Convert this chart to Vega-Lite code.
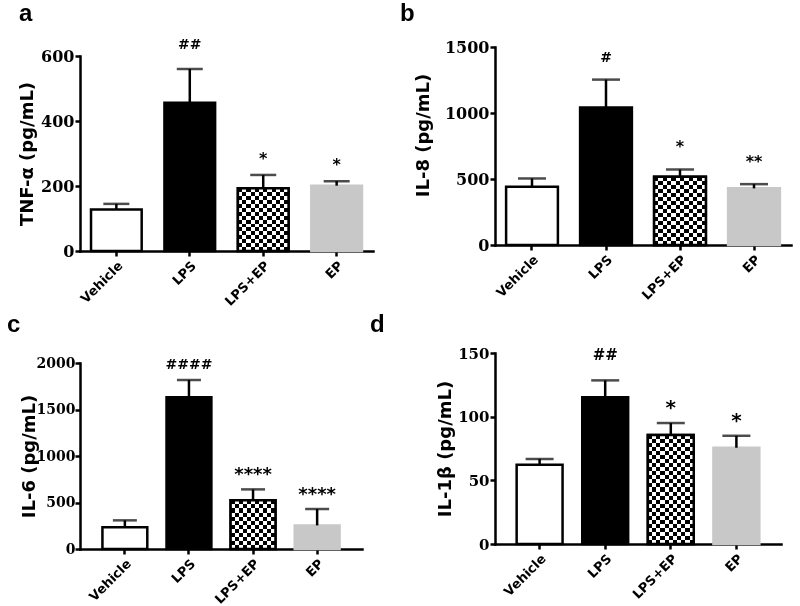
{
  "$schema": "https://vega.github.io/schema/vega-lite/v6.json",
  "background": "white",
  "padding": {"left": 7, "top": 2, "right": 5, "bottom": 2},
  "datasets": {
    "d": [
      {"panel": "a", "group": "Vehicle", "value": 128, "err": 145, "label": ""},
      {"panel": "a", "group": "LPS", "value": 456, "err": 560, "label": "##"},
      {"panel": "a", "group": "LPS+EP", "value": 193, "err": 234, "label": "*"},
      {"panel": "a", "group": "EP", "value": 201, "err": 215, "label": "*"},
      {"panel": "b", "group": "Vehicle", "value": 441, "err": 504, "label": ""},
      {"panel": "b", "group": "LPS", "value": 1041, "err": 1253, "label": "#"},
      {"panel": "b", "group": "LPS+EP", "value": 517, "err": 572, "label": "*"},
      {"panel": "b", "group": "EP", "value": 429, "err": 461, "label": "**"},
      {"panel": "c", "group": "Vehicle", "value": 233, "err": 308, "label": ""},
      {"panel": "c", "group": "LPS", "value": 1631, "err": 1817, "label": "####"},
      {"panel": "c", "group": "LPS+EP", "value": 523, "err": 641, "label": "****"},
      {"panel": "c", "group": "EP", "value": 254, "err": 430, "label": "****"},
      {"panel": "d", "group": "Vehicle", "value": 62.3, "err": 66.8, "label": ""},
      {"panel": "d", "group": "LPS", "value": 115.2, "err": 128.5, "label": "##"},
      {"panel": "d", "group": "LPS+EP", "value": 85.6, "err": 95, "label": "*"},
      {"panel": "d", "group": "EP", "value": 75.6, "err": 85, "label": "*"}
    ]
  },
  "bounds": "full",
  "spacing": -3,
  "config": {
    "view": {"stroke": null},
    "axis": {
      "grid": false, "domainColor": "black", "domainWidth": 2.5, "domainCap": "square",
      "tickColor": "black", "tickWidth": 2.5, "tickSize": 5,
      "labelColor": "black", "titleColor": "black"
    },
    "axisX": {"labelAngle": -45, "labelFont": "DejaVu Sans", "labelFontWeight": "bold", "labelFontSize": 13, "labelPadding": 3, "title": null},
    "axisY": {"labelFont": "DejaVu Serif", "labelFontWeight": "bold", "labelPadding": 1, "format": "d", "titleFont": "DejaVu Sans", "titleFontWeight": "bold", "titleFontSize": 18},
    "title": {"anchor": "start", "frame": "group", "font": "Liberation Sans", "fontWeight": "bold", "fontSize": 24, "color": "black"},
    "text": {"font": "DejaVu Sans", "fontWeight": "bold", "fontSize": 16, "baseline": "bottom", "color": "black"}
  },
  "hconcat": [
    {
      "bounds": "flush",
      "spacing": 0,
      "vconcat": [
        {
          "width": 1, "height": 9,
          "data": {"values": [{}]},
          "mark": {"type": "point", "opacity": 0},
          "encoding": {}
        },
        {
          "bounds": "flush",
          "spacing": 112,
          "vconcat": [
            {
              "width": 293, "height": 195,
              "title": {"text": "a", "dx": -61, "offset": 12},
              "data": {"name": "d"},
              "transform": [{"filter": "datum.panel == 'a'"}],
              "encoding": {
                "x": {"field": "group", "type": "nominal", "sort": ["Vehicle", "LPS", "LPS+EP", "EP"], "scale": {"paddingInner": 0.31, "paddingOuter": 0.15}}
              },
              "layer": [
                {
                  "mark": {"type": "bar", "strokeWidth": 2.5},
                  "encoding": {
                    "y": {"field": "value", "type": "quantitative", "scale": {"domain": [0, 600], "nice": false}, "axis": {"values": [0, 200, 400, 600], "title": "TNF-α (pg/mL)", "labelFontSize": 16, "titlePadding": 4}},
                    "fill": {"field": "group", "type": "nominal", "scale": {"domain": ["Vehicle", "LPS", "LPS+EP", "EP"], "range": ["#ffffff", "#000000", "#ffffff", "#c8c8c8"]}, "legend": null},
                    "stroke": {"field": "group", "type": "nominal", "scale": {"domain": ["Vehicle", "LPS", "LPS+EP", "EP"], "range": ["#000000", "#000000", "#000000", "#c8c8c8"]}, "legend": null}
                  }
                },
                {
                  "transform": [{"filter": "datum.group == 'LPS+EP'"}],
                  "mark": {"type": "bar", "fill": {"gradient": "linear", "x1": 0, "y1": 0, "x2": 1, "y2": 0, "stops": [{"offset":0,"color":"#000"},{"offset":0.0833,"color":"#000"},{"offset":0.0833,"color":"#fff"},{"offset":0.1667,"color":"#fff"},{"offset":0.1667,"color":"#000"},{"offset":0.25,"color":"#000"},{"offset":0.25,"color":"#fff"},{"offset":0.3333,"color":"#fff"},{"offset":0.3333,"color":"#000"},{"offset":0.4167,"color":"#000"},{"offset":0.4167,"color":"#fff"},{"offset":0.5,"color":"#fff"},{"offset":0.5,"color":"#000"},{"offset":0.5833,"color":"#000"},{"offset":0.5833,"color":"#fff"},{"offset":0.6667,"color":"#fff"},{"offset":0.6667,"color":"#000"},{"offset":0.75,"color":"#000"},{"offset":0.75,"color":"#fff"},{"offset":0.8333,"color":"#fff"},{"offset":0.8333,"color":"#000"},{"offset":0.9167,"color":"#000"},{"offset":0.9167,"color":"#fff"},{"offset":1,"color":"#fff"}]}},
                  "encoding": {"y": {"field": "value", "type": "quantitative"}}
                },
                {
                  "transform": [{"filter": "datum.group == 'LPS+EP'"}],
                  "mark": {"type": "bar", "blend": "difference", "fill": {"gradient": "linear", "x1": 0, "y1": 0, "x2": 0, "y2": 1, "stops": [{"offset":0,"color":"#000"},{"offset":0.0625,"color":"#000"},{"offset":0.0625,"color":"#fff"},{"offset":0.125,"color":"#fff"},{"offset":0.125,"color":"#000"},{"offset":0.1875,"color":"#000"},{"offset":0.1875,"color":"#fff"},{"offset":0.25,"color":"#fff"},{"offset":0.25,"color":"#000"},{"offset":0.3125,"color":"#000"},{"offset":0.3125,"color":"#fff"},{"offset":0.375,"color":"#fff"},{"offset":0.375,"color":"#000"},{"offset":0.4375,"color":"#000"},{"offset":0.4375,"color":"#fff"},{"offset":0.5,"color":"#fff"},{"offset":0.5,"color":"#000"},{"offset":0.5625,"color":"#000"},{"offset":0.5625,"color":"#fff"},{"offset":0.625,"color":"#fff"},{"offset":0.625,"color":"#000"},{"offset":0.6875,"color":"#000"},{"offset":0.6875,"color":"#fff"},{"offset":0.75,"color":"#fff"},{"offset":0.75,"color":"#000"},{"offset":0.8125,"color":"#000"},{"offset":0.8125,"color":"#fff"},{"offset":0.875,"color":"#fff"},{"offset":0.875,"color":"#000"},{"offset":0.9375,"color":"#000"},{"offset":0.9375,"color":"#fff"},{"offset":1,"color":"#fff"}]}},
                  "encoding": {"y": {"field": "value", "type": "quantitative"}}
                },
                {
                  "transform": [{"filter": "datum.group == 'LPS+EP'"}],
                  "mark": {"type": "bar", "fillOpacity": 0, "stroke": "black", "strokeWidth": 2.5},
                  "encoding": {"y": {"field": "value", "type": "quantitative"}}
                },
                {
                  "mark": {"type": "rule", "strokeWidth": 2.5, "color": "black"},
                  "encoding": {"y": {"field": "value", "type": "quantitative"}, "y2": {"field": "err"}}
                },
                {
                  "mark": {"type": "tick", "size": 26, "thickness": 2.5, "color": "black"},
                  "encoding": {"y": {"field": "err", "type": "quantitative"}}
                },
                {
                  "transform": [{"filter": "indexof(datum.label, '#') >= 0"}],
                  "mark": {"type": "text", "dy": -17, "fontSize": 14},
                  "encoding": {"y": {"field": "err", "type": "quantitative"}, "text": {"field": "label"}}
                },
                {
                  "transform": [{"filter": "indexof(datum.label, '*') >= 0"}],
                  "mark": {"type": "text", "dy": -8, "fontSize": 16},
                  "encoding": {"y": {"field": "err", "type": "quantitative"}, "text": {"field": "label"}}
                }
              ]
            },
            {
              "width": 282, "height": 186,
              "title": {"text": "c", "dx": -73, "offset": 19},
              "data": {"name": "d"},
              "transform": [{"filter": "datum.panel == 'c'"}],
              "encoding": {
                "x": {"field": "group", "type": "nominal", "sort": ["Vehicle", "LPS", "LPS+EP", "EP"], "scale": {"paddingInner": 0.3, "paddingOuter": 0.35}}
              },
              "layer": [
                {
                  "mark": {"type": "bar", "strokeWidth": 2.5},
                  "encoding": {
                    "y": {"field": "value", "type": "quantitative", "scale": {"domain": [0, 2000], "nice": false}, "axis": {"values": [0, 500, 1000, 1500, 2000], "title": "IL-6  (pg/mL)", "labelFontSize": 14, "labelPadding": 0, "titlePadding": -2}},
                    "fill": {"field": "group", "type": "nominal", "scale": {"domain": ["Vehicle", "LPS", "LPS+EP", "EP"], "range": ["#ffffff", "#000000", "#ffffff", "#c8c8c8"]}, "legend": null},
                    "stroke": {"field": "group", "type": "nominal", "scale": {"domain": ["Vehicle", "LPS", "LPS+EP", "EP"], "range": ["#000000", "#000000", "#000000", "#c8c8c8"]}, "legend": null}
                  }
                },
                {
                  "transform": [{"filter": "datum.group == 'LPS+EP'"}],
                  "mark": {"type": "bar", "fill": {"gradient": "linear", "x1": 0, "y1": 0, "x2": 1, "y2": 0, "stops": [{"offset":0,"color":"#000"},{"offset":0.0909,"color":"#000"},{"offset":0.0909,"color":"#fff"},{"offset":0.1818,"color":"#fff"},{"offset":0.1818,"color":"#000"},{"offset":0.2727,"color":"#000"},{"offset":0.2727,"color":"#fff"},{"offset":0.3636,"color":"#fff"},{"offset":0.3636,"color":"#000"},{"offset":0.4545,"color":"#000"},{"offset":0.4545,"color":"#fff"},{"offset":0.5455,"color":"#fff"},{"offset":0.5455,"color":"#000"},{"offset":0.6364,"color":"#000"},{"offset":0.6364,"color":"#fff"},{"offset":0.7273,"color":"#fff"},{"offset":0.7273,"color":"#000"},{"offset":0.8182,"color":"#000"},{"offset":0.8182,"color":"#fff"},{"offset":0.9091,"color":"#fff"},{"offset":0.9091,"color":"#000"},{"offset":1,"color":"#000"}]}},
                  "encoding": {"y": {"field": "value", "type": "quantitative"}}
                },
                {
                  "transform": [{"filter": "datum.group == 'LPS+EP'"}],
                  "mark": {"type": "bar", "blend": "difference", "fill": {"gradient": "linear", "x1": 0, "y1": 0, "x2": 0, "y2": 1, "stops": [{"offset":0,"color":"#000"},{"offset":0.0833,"color":"#000"},{"offset":0.0833,"color":"#fff"},{"offset":0.1667,"color":"#fff"},{"offset":0.1667,"color":"#000"},{"offset":0.25,"color":"#000"},{"offset":0.25,"color":"#fff"},{"offset":0.3333,"color":"#fff"},{"offset":0.3333,"color":"#000"},{"offset":0.4167,"color":"#000"},{"offset":0.4167,"color":"#fff"},{"offset":0.5,"color":"#fff"},{"offset":0.5,"color":"#000"},{"offset":0.5833,"color":"#000"},{"offset":0.5833,"color":"#fff"},{"offset":0.6667,"color":"#fff"},{"offset":0.6667,"color":"#000"},{"offset":0.75,"color":"#000"},{"offset":0.75,"color":"#fff"},{"offset":0.8333,"color":"#fff"},{"offset":0.8333,"color":"#000"},{"offset":0.9167,"color":"#000"},{"offset":0.9167,"color":"#fff"},{"offset":1,"color":"#fff"}]}},
                  "encoding": {"y": {"field": "value", "type": "quantitative"}}
                },
                {
                  "transform": [{"filter": "datum.group == 'LPS+EP'"}],
                  "mark": {"type": "bar", "fillOpacity": 0, "stroke": "black", "strokeWidth": 2.5},
                  "encoding": {"y": {"field": "value", "type": "quantitative"}}
                },
                {
                  "mark": {"type": "rule", "strokeWidth": 2.5, "color": "black"},
                  "encoding": {"y": {"field": "value", "type": "quantitative"}, "y2": {"field": "err"}}
                },
                {
                  "mark": {"type": "tick", "size": 24, "thickness": 2.5, "color": "black"},
                  "encoding": {"y": {"field": "err", "type": "quantitative"}}
                },
                {
                  "transform": [{"filter": "indexof(datum.label, '#') >= 0"}],
                  "mark": {"type": "text", "dy": -8, "fontSize": 14},
                  "encoding": {"y": {"field": "err", "type": "quantitative"}, "text": {"field": "label"}}
                },
                {
                  "transform": [{"filter": "indexof(datum.label, '*') >= 0"}],
                  "mark": {"type": "text", "dy": -5, "fontSize": 18},
                  "encoding": {"y": {"field": "err", "type": "quantitative"}, "text": {"field": "label"}}
                }
              ]
            }
          ]
        }
      ]
    },
    {
      "bounds": "flush",
      "spacing": 108,
      "vconcat": [
        {
          "width": 296, "height": 198,
          "title": {"text": "b", "dx": -95, "offset": 13},
          "data": {"name": "d"},
          "transform": [{"filter": "datum.panel == 'b'"}],
          "encoding": {
            "x": {"field": "group", "type": "nominal", "sort": ["Vehicle", "LPS", "LPS+EP", "EP"], "scale": {"paddingInner": 0.3, "paddingOuter": 0.15}}
          },
          "layer": [
            {
              "mark": {"type": "bar", "strokeWidth": 2.5},
              "encoding": {
                "y": {"field": "value", "type": "quantitative", "scale": {"domain": [0, 1500], "nice": false}, "axis": {"values": [0, 500, 1000, 1500], "title": "IL-8 (pg/mL)", "labelFontSize": 16, "titlePadding": 12, "titleY": 88}},
                "fill": {"field": "group", "type": "nominal", "scale": {"domain": ["Vehicle", "LPS", "LPS+EP", "EP"], "range": ["#ffffff", "#000000", "#ffffff", "#c8c8c8"]}, "legend": null},
                "stroke": {"field": "group", "type": "nominal", "scale": {"domain": ["Vehicle", "LPS", "LPS+EP", "EP"], "range": ["#000000", "#000000", "#000000", "#c8c8c8"]}, "legend": null}
              }
            },
            {
              "transform": [{"filter": "datum.group == 'LPS+EP'"}],
              "mark": {"type": "bar", "fill": {"gradient": "linear", "x1": 0, "y1": 0, "x2": 1, "y2": 0, "stops": [{"offset":0,"color":"#000"},{"offset":0.0833,"color":"#000"},{"offset":0.0833,"color":"#fff"},{"offset":0.1667,"color":"#fff"},{"offset":0.1667,"color":"#000"},{"offset":0.25,"color":"#000"},{"offset":0.25,"color":"#fff"},{"offset":0.3333,"color":"#fff"},{"offset":0.3333,"color":"#000"},{"offset":0.4167,"color":"#000"},{"offset":0.4167,"color":"#fff"},{"offset":0.5,"color":"#fff"},{"offset":0.5,"color":"#000"},{"offset":0.5833,"color":"#000"},{"offset":0.5833,"color":"#fff"},{"offset":0.6667,"color":"#fff"},{"offset":0.6667,"color":"#000"},{"offset":0.75,"color":"#000"},{"offset":0.75,"color":"#fff"},{"offset":0.8333,"color":"#fff"},{"offset":0.8333,"color":"#000"},{"offset":0.9167,"color":"#000"},{"offset":0.9167,"color":"#fff"},{"offset":1,"color":"#fff"}]}},
              "encoding": {"y": {"field": "value", "type": "quantitative"}}
            },
            {
              "transform": [{"filter": "datum.group == 'LPS+EP'"}],
              "mark": {"type": "bar", "blend": "difference", "fill": {"gradient": "linear", "x1": 0, "y1": 0, "x2": 0, "y2": 1, "stops": [{"offset":0,"color":"#000"},{"offset":0.0588,"color":"#000"},{"offset":0.0588,"color":"#fff"},{"offset":0.1176,"color":"#fff"},{"offset":0.1176,"color":"#000"},{"offset":0.1765,"color":"#000"},{"offset":0.1765,"color":"#fff"},{"offset":0.2353,"color":"#fff"},{"offset":0.2353,"color":"#000"},{"offset":0.2941,"color":"#000"},{"offset":0.2941,"color":"#fff"},{"offset":0.3529,"color":"#fff"},{"offset":0.3529,"color":"#000"},{"offset":0.4118,"color":"#000"},{"offset":0.4118,"color":"#fff"},{"offset":0.4706,"color":"#fff"},{"offset":0.4706,"color":"#000"},{"offset":0.5294,"color":"#000"},{"offset":0.5294,"color":"#fff"},{"offset":0.5882,"color":"#fff"},{"offset":0.5882,"color":"#000"},{"offset":0.6471,"color":"#000"},{"offset":0.6471,"color":"#fff"},{"offset":0.7059,"color":"#fff"},{"offset":0.7059,"color":"#000"},{"offset":0.7647,"color":"#000"},{"offset":0.7647,"color":"#fff"},{"offset":0.8235,"color":"#fff"},{"offset":0.8235,"color":"#000"},{"offset":0.8824,"color":"#000"},{"offset":0.8824,"color":"#fff"},{"offset":0.9412,"color":"#fff"},{"offset":0.9412,"color":"#000"},{"offset":1,"color":"#000"}]}},
              "encoding": {"y": {"field": "value", "type": "quantitative"}}
            },
            {
              "transform": [{"filter": "datum.group == 'LPS+EP'"}],
              "mark": {"type": "bar", "fillOpacity": 0, "stroke": "black", "strokeWidth": 2.5},
              "encoding": {"y": {"field": "value", "type": "quantitative"}}
            },
            {
              "mark": {"type": "rule", "strokeWidth": 2.5, "color": "black"},
              "encoding": {"y": {"field": "value", "type": "quantitative"}, "y2": {"field": "err"}}
            },
            {
              "mark": {"type": "tick", "size": 28, "thickness": 2.5, "color": "black"},
              "encoding": {"y": {"field": "err", "type": "quantitative"}}
            },
            {
              "transform": [{"filter": "indexof(datum.label, '#') >= 0"}],
              "mark": {"type": "text", "dy": -15, "fontSize": 14},
              "encoding": {"y": {"field": "err", "type": "quantitative"}, "text": {"field": "label"}}
            },
            {
              "transform": [{"filter": "indexof(datum.label, '*') >= 0"}],
              "mark": {"type": "text", "dy": -14, "fontSize": 16},
              "encoding": {"y": {"field": "err", "type": "quantitative"}, "text": {"field": "label"}}
            }
          ]
        },
        {
          "width": 286, "height": 191,
          "title": {"text": "d", "dx": -125, "offset": 9},
          "data": {"name": "d"},
          "transform": [{"filter": "datum.panel == 'd'"}],
          "encoding": {
            "x": {"field": "group", "type": "nominal", "sort": ["Vehicle", "LPS", "LPS+EP", "EP"], "scale": {"paddingInner": 0.3, "paddingOuter": 0.33}}
          },
          "layer": [
            {
              "mark": {"type": "bar", "strokeWidth": 2.5},
              "encoding": {
                "y": {"field": "value", "type": "quantitative", "scale": {"domain": [0, 150], "nice": false}, "axis": {"values": [0, 50, 100, 150], "title": "IL-1β (pg/mL)", "labelFontSize": 15, "titlePadding": 3}},
                "fill": {"field": "group", "type": "nominal", "scale": {"domain": ["Vehicle", "LPS", "LPS+EP", "EP"], "range": ["#ffffff", "#000000", "#ffffff", "#c8c8c8"]}, "legend": null},
                "stroke": {"field": "group", "type": "nominal", "scale": {"domain": ["Vehicle", "LPS", "LPS+EP", "EP"], "range": ["#000000", "#000000", "#000000", "#c8c8c8"]}, "legend": null}
              }
            },
            {
              "transform": [{"filter": "datum.group == 'LPS+EP'"}],
              "mark": {"type": "bar", "fill": {"gradient": "linear", "x1": 0, "y1": 0, "x2": 1, "y2": 0, "stops": [{"offset":0,"color":"#000"},{"offset":0.0909,"color":"#000"},{"offset":0.0909,"color":"#fff"},{"offset":0.1818,"color":"#fff"},{"offset":0.1818,"color":"#000"},{"offset":0.2727,"color":"#000"},{"offset":0.2727,"color":"#fff"},{"offset":0.3636,"color":"#fff"},{"offset":0.3636,"color":"#000"},{"offset":0.4545,"color":"#000"},{"offset":0.4545,"color":"#fff"},{"offset":0.5455,"color":"#fff"},{"offset":0.5455,"color":"#000"},{"offset":0.6364,"color":"#000"},{"offset":0.6364,"color":"#fff"},{"offset":0.7273,"color":"#fff"},{"offset":0.7273,"color":"#000"},{"offset":0.8182,"color":"#000"},{"offset":0.8182,"color":"#fff"},{"offset":0.9091,"color":"#fff"},{"offset":0.9091,"color":"#000"},{"offset":1,"color":"#000"}]}},
              "encoding": {"y": {"field": "value", "type": "quantitative"}}
            },
            {
              "transform": [{"filter": "datum.group == 'LPS+EP'"}],
              "mark": {"type": "bar", "blend": "difference", "fill": {"gradient": "linear", "x1": 0, "y1": 0, "x2": 0, "y2": 1, "stops": [{"offset":0,"color":"#000"},{"offset":0.037,"color":"#000"},{"offset":0.037,"color":"#fff"},{"offset":0.0741,"color":"#fff"},{"offset":0.0741,"color":"#000"},{"offset":0.1111,"color":"#000"},{"offset":0.1111,"color":"#fff"},{"offset":0.1481,"color":"#fff"},{"offset":0.1481,"color":"#000"},{"offset":0.1852,"color":"#000"},{"offset":0.1852,"color":"#fff"},{"offset":0.2222,"color":"#fff"},{"offset":0.2222,"color":"#000"},{"offset":0.2593,"color":"#000"},{"offset":0.2593,"color":"#fff"},{"offset":0.2963,"color":"#fff"},{"offset":0.2963,"color":"#000"},{"offset":0.3333,"color":"#000"},{"offset":0.3333,"color":"#fff"},{"offset":0.3704,"color":"#fff"},{"offset":0.3704,"color":"#000"},{"offset":0.4074,"color":"#000"},{"offset":0.4074,"color":"#fff"},{"offset":0.4444,"color":"#fff"},{"offset":0.4444,"color":"#000"},{"offset":0.4815,"color":"#000"},{"offset":0.4815,"color":"#fff"},{"offset":0.5185,"color":"#fff"},{"offset":0.5185,"color":"#000"},{"offset":0.5556,"color":"#000"},{"offset":0.5556,"color":"#fff"},{"offset":0.5926,"color":"#fff"},{"offset":0.5926,"color":"#000"},{"offset":0.6296,"color":"#000"},{"offset":0.6296,"color":"#fff"},{"offset":0.6667,"color":"#fff"},{"offset":0.6667,"color":"#000"},{"offset":0.7037,"color":"#000"},{"offset":0.7037,"color":"#fff"},{"offset":0.7407,"color":"#fff"},{"offset":0.7407,"color":"#000"},{"offset":0.7778,"color":"#000"},{"offset":0.7778,"color":"#fff"},{"offset":0.8148,"color":"#fff"},{"offset":0.8148,"color":"#000"},{"offset":0.8519,"color":"#000"},{"offset":0.8519,"color":"#fff"},{"offset":0.8889,"color":"#fff"},{"offset":0.8889,"color":"#000"},{"offset":0.9259,"color":"#000"},{"offset":0.9259,"color":"#fff"},{"offset":0.963,"color":"#fff"},{"offset":0.963,"color":"#000"},{"offset":1,"color":"#000"}]}},
              "encoding": {"y": {"field": "value", "type": "quantitative"}}
            },
            {
              "transform": [{"filter": "datum.group == 'LPS+EP'"}],
              "mark": {"type": "bar", "fillOpacity": 0, "stroke": "black", "strokeWidth": 2.5},
              "encoding": {"y": {"field": "value", "type": "quantitative"}}
            },
            {
              "mark": {"type": "rule", "strokeWidth": 2.5, "color": "black"},
              "encoding": {"y": {"field": "value", "type": "quantitative"}, "y2": {"field": "err"}}
            },
            {
              "mark": {"type": "tick", "size": 28, "thickness": 2.5, "color": "black"},
              "encoding": {"y": {"field": "err", "type": "quantitative"}}
            },
            {
              "transform": [{"filter": "indexof(datum.label, '#') >= 0"}],
              "mark": {"type": "text", "dy": -17, "fontSize": 15},
              "encoding": {"y": {"field": "err", "type": "quantitative"}, "text": {"field": "label"}}
            },
            {
              "transform": [{"filter": "indexof(datum.label, '*') >= 0"}],
              "mark": {"type": "text", "dy": -5, "fontSize": 20},
              "encoding": {"y": {"field": "err", "type": "quantitative"}, "text": {"field": "label"}}
            }
          ]
        }
      ]
    }
  ]
}
